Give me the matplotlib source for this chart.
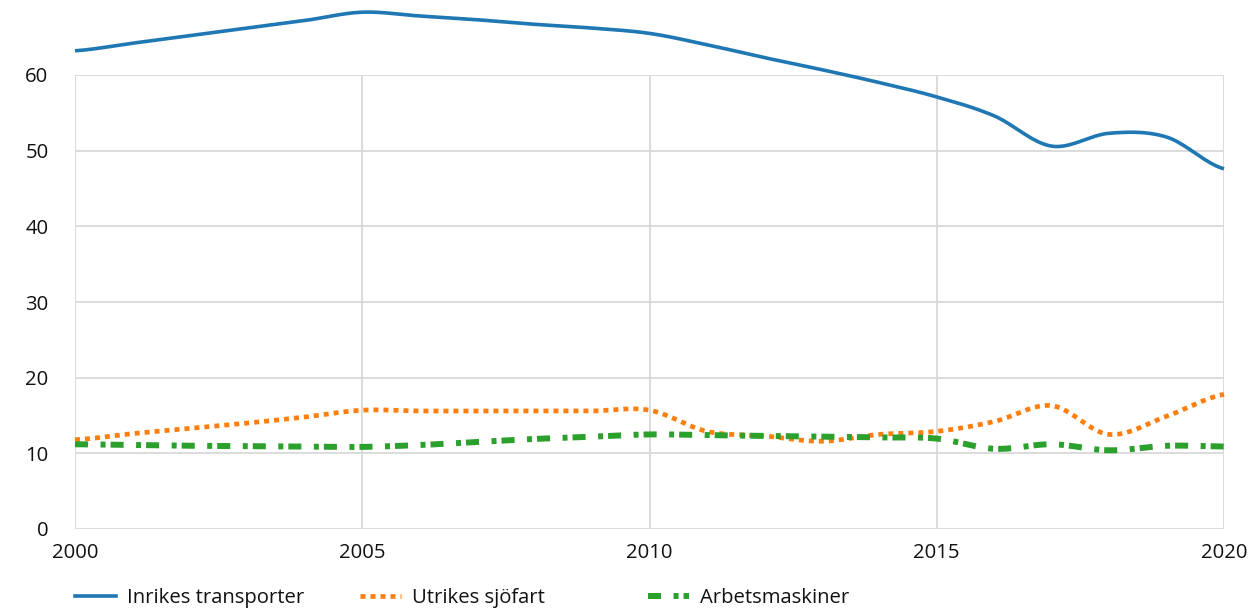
import numpy as np
import matplotlib
matplotlib.use("Agg")
import matplotlib.pyplot as plt
from matplotlib.lines import Line2D

plt.rcParams['font.family'] = ['Open Sans', 'DejaVu Sans']
plt.rcParams['lines.scale_dashes'] = False

years = list(range(2000, 2021))
inrikes = [63.2, 64.2, 65.2, 66.2, 67.2, 68.3, 67.8, 67.3, 66.7, 66.2, 65.5,
           64.0, 62.3, 60.7, 59.0, 57.1, 54.6, 50.6, 52.3, 51.8, 47.6]
utrikes = [11.8, 12.6, 13.3, 14.0, 14.8, 15.7, 15.6, 15.6, 15.6, 15.6, 15.7,
           12.9, 12.3, 11.6, 12.5, 12.9, 14.2, 16.3, 12.5, 14.9, 17.8]
arbets = [11.2, 11.1, 11.0, 10.95, 10.9, 10.85, 11.1, 11.5, 11.9, 12.2, 12.5,
          12.4, 12.3, 12.2, 12.1, 11.95, 10.6, 11.2, 10.4, 11.0, 10.9]
labels = ["Inrikes transporter", "Utrikes sjöfart", "Arbetsmaskiner"]
colors = ["#1f77b4", "#ff7f0e", "#2ca02c"]
xticks = [2000, 2005, 2010, 2015, 2020]
yticks = [0, 10, 20, 30, 40, 50, 60]


def smooth(x, y, n=20, tension=0.0):
    x = np.asarray(x, float)
    y = np.asarray(y, float)
    px = np.concatenate([[2 * x[0] - x[1]], x, [2 * x[-1] - x[-2]]])
    py = np.concatenate([[y[0]], y, [y[-1]]])
    xs, ys = [], []
    for i in range(1, len(px) - 2):
        t = np.linspace(0, 1, n, endpoint=False)
        p0, p1, p2, p3 = py[i - 1], py[i], py[i + 1], py[i + 2]
        m1 = (1 - tension) * (p2 - p0) / 2
        m2 = (1 - tension) * (p3 - p1) / 2
        h00 = 2 * t**3 - 3 * t**2 + 1
        h10 = t**3 - 2 * t**2 + t
        h01 = -2 * t**3 + 3 * t**2
        h11 = t**3 - t**2
        ys.append(h00 * p1 + h10 * m1 + h01 * p2 + h11 * m2)
        xs.append(px[i] + t * (px[i + 1] - px[i]))
    xs.append([x[-1]])
    ys.append([y[-1]])
    return np.concatenate(xs), np.concatenate(ys)


fig = plt.figure(figsize=(12.6, 6.13), dpi=100)
ax = fig.add_axes([75 / 1260, 1 - 529 / 613, (1224 - 75) / 1260, (529 - 75) / 613])

grid_c = "#d9d9d9"
for yv in yticks:
    ax.axhline(yv, color=grid_c, lw=1.3, zorder=0)
for xv in xticks:
    ax.axvline(xv, color=grid_c, lw=1.3, zorder=0)

sx, sy = smooth(years, inrikes)
l1, = ax.plot(sx, sy, color=colors[0], lw=2.6, solid_capstyle='butt', clip_on=False, zorder=3)
sx, sy = smooth(years, utrikes)
l2, = ax.plot(sx, sy, color=colors[1], lw=3.4, clip_on=False, zorder=3,
              dash_capstyle='butt')
l2.set_dashes([3.6, 3.6])
sx, sy = smooth(years, arbets)
l3, = ax.plot(sx, sy, color=colors[2], lw=4.3, clip_on=False, zorder=3,
              dash_capstyle='butt')
l3.set_dashes([9.4, 9.0, 3.6, 3.6])

ax.set_xlim(2000, 2020)
ax.set_ylim(0, 60)
ax.set_xticks(xticks)
ax.set_yticks(yticks)
for s in ax.spines.values():
    s.set_visible(False)
ax.tick_params(length=0, labelsize=14.6, colors="#111111")
ax.tick_params(axis='y', pad=19)
ax.tick_params(axis='x', pad=10)

h1 = Line2D([], [], color=colors[0], lw=2.6)
h2 = Line2D([], [], color=colors[1], lw=3.4, dashes=[3.6, 3.6])
h3 = Line2D([], [], color=colors[2], lw=4.3, dashes=[9.4, 9.0, 3.6, 3.6])
for h, lab, xpos in zip([h1, h2, h3], labels, [75, 360, 648]):
    leg = fig.legend([h], [lab], loc='center left', bbox_to_anchor=(xpos / 1260, 1 - 598 / 613),
                     frameon=False, fontsize=14.6, handlelength=2.0, handletextpad=0.55,
                     borderpad=0, borderaxespad=0)
    for t in leg.get_texts():
        t.set_color("#111111")

fig.savefig("out.png", dpi=100)
